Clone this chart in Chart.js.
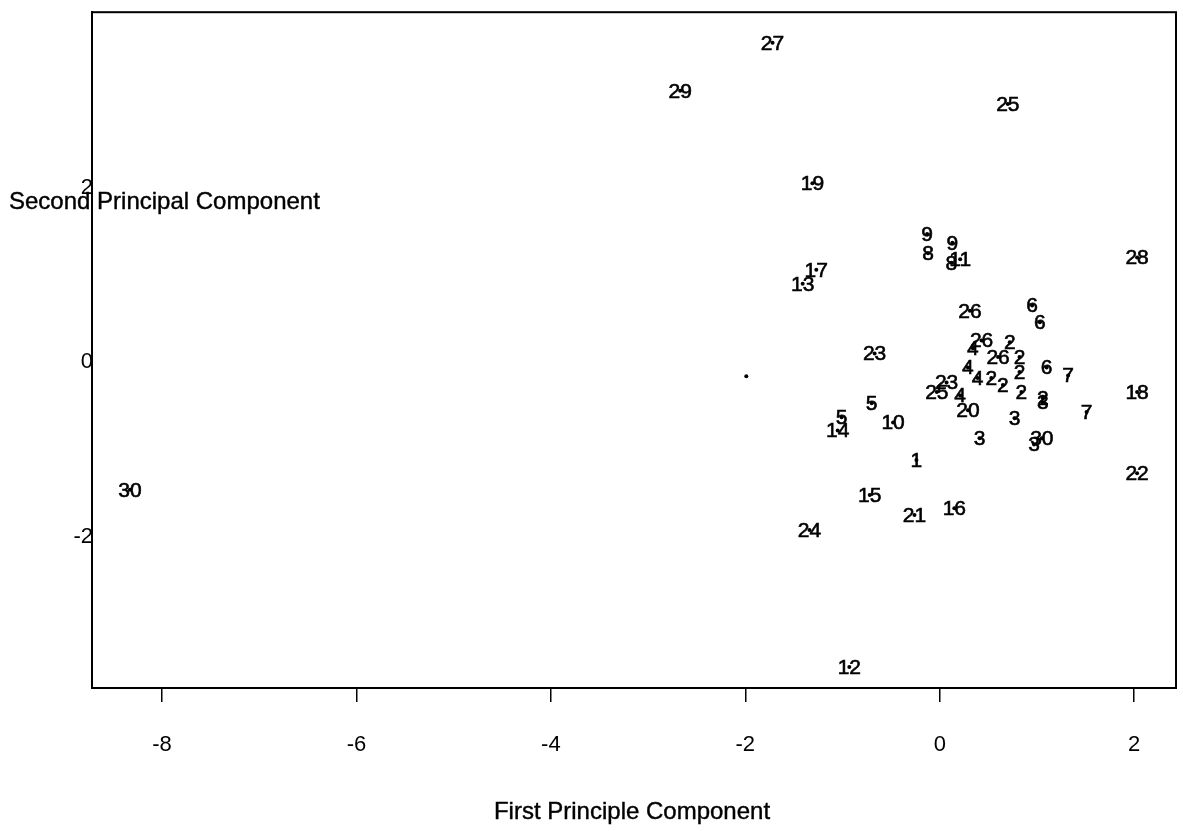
<!DOCTYPE html>
<html>
<head>
<meta charset="utf-8">
<script src="https://cdn.jsdelivr.net/npm/chart.js@4.4.0/dist/chart.umd.min.js"></script>
<style>
  html, body { margin: 0; padding: 0; background: #fff; }
  #wrap { width: 1183px; height: 831px; }
</style>
</head>
<body>
<div id="wrap"><canvas id="graph"></canvas></div>
<script>
const black = 'rgb(0, 0, 0)'
const fontFamily = '"Liberation Sans", Arial, sans-serif'

//Observation number printed at each point
const pointLabels = [
  '27', '29', '25', '19', '9', '8', '9', '8', '11', '28',
  '17', '13', '26', '6', '6', '26', '2', '4', '23', '26',
  '2', '4', '6', '2', '7', '4', '2', '23', '2', '25',
  '4', '2', '18', '2', '3', '5', '20', '7', '3', '5',
  '10', '14', '3', '30', '3', '1', '22', '30', '15', '16',
  '21', '24', '12', ''
]
//First principal component (x)
const pcOne = [
  -1.72, -2.67, 0.70, -1.31, -0.13, -0.12, 0.13, 0.12, 0.21, 2.03,
  -1.27, -1.41, 0.31, 0.95, 1.03, 0.43, 0.72, 0.34, -0.67, 0.60,
  0.82, 0.29, 1.10, 0.82, 1.32, 0.39, 0.53, 0.07, 0.65, -0.03,
  0.21, 0.84, 2.03, 1.06, 1.06, -0.70, 0.29, 1.51, 0.77, -1.01,
  -0.48, -1.05, 0.41, 1.05, 0.97, -0.24, 2.03, -8.33, -0.72, 0.15,
  -0.26, -1.34, -0.93, -1.99
]
//Second principal component (y)
const pcTwo = [
  3.66, 3.11, 2.96, 2.05, 1.47, 1.25, 1.37, 1.14, 1.18, 1.20,
  1.06, 0.90, 0.59, 0.65, 0.46, 0.25, 0.23, 0.16, 0.10, 0.06,
  0.06, -0.06, -0.06, -0.11, -0.15, -0.18, -0.18, -0.23, -0.26, -0.34,
  -0.38, -0.34, -0.34, -0.41, -0.46, -0.47, -0.55, -0.57, -0.64, -0.63,
  -0.69, -0.78, -0.87, -0.87, -0.94, -1.12, -1.27, -1.46, -1.52, -1.67,
  -1.75, -1.92, -3.49, -0.16
]
const xTicks = [-8, -6, -4, -2, 0, 2]
const yTicks = [-2, 0, 2]
const xTitle = 'First Principle Component'
const yTitle = 'Second Principal Component'

//fill + thin stroke so the text looks as heavy as the scanned print
function heavyText(ctx, txt, x, y) {
  ctx.fillText(txt, x, y)
  ctx.strokeText(txt, x, y)
}

//Draw the number centered on each point
const pointLabelPlugin = {
  id: 'pointLabels',
  afterDatasetsDraw(chart) {
    const ctx = chart.ctx
    const meta = chart.getDatasetMeta(0)
    ctx.save()
    ctx.fillStyle = black
    ctx.strokeStyle = black
    ctx.lineWidth = 0.6
    ctx.font = '21px ' + fontFamily
    ctx.textAlign = 'center'
    ctx.textBaseline = 'middle'
    meta.data.forEach((pt, i) => {
      if (pointLabels[i]) heavyText(ctx, pointLabels[i], pt.x, pt.y + 1)
    })
    ctx.restore()
  }
}

//Box round the plot + the two horizontal axis titles
const framePlugin = {
  id: 'frame',
  beforeDraw(chart) {
    const ctx = chart.ctx
    ctx.save()
    ctx.fillStyle = '#fff'
    ctx.fillRect(0, 0, chart.width, chart.height)
    ctx.restore()
  },
  afterDraw(chart) {
    const ctx = chart.ctx
    const a = chart.chartArea
    ctx.save()
    ctx.strokeStyle = black
    ctx.lineWidth = 2
    ctx.strokeRect(a.left, a.top, a.right - a.left, a.bottom - a.top)
    ctx.fillStyle = black
    ctx.lineWidth = 0.4
    ctx.font = '24px ' + fontFamily
    ctx.textBaseline = 'middle'
    ctx.textAlign = 'left'
    heavyText(ctx, yTitle, 9, 202)
    ctx.textAlign = 'center'
    heavyText(ctx, xTitle, 632, 812)
    ctx.restore()
  }
}

const myChart = new Chart(document.getElementById('graph'), {
  type: 'scatter',
  data: {
    datasets: [{
      data: pcOne.map((x, i) => ({x: x, y: pcTwo[i]})),
      pointRadius: 2,
      pointBackgroundColor: black,
      pointBorderWidth: 0,
      showLine: false,
    }]
  },
  options: {
    responsive: true,
    maintainAspectRatio: false,
    animation: false,
    layout: {padding: {top: 11, right: 7, left: 0, bottom: 0}},
    plugins: {
      legend: {display: false},
      tooltip: {enabled: false},
    },
    scales: {
      x: {
        type: 'linear',
        min: -8.72,
        max: 2.43,
        afterBuildTicks: (scale) => { scale.ticks = xTicks.map(v => ({value: v})) },
        afterFit: (scale) => { scale.height = 831 - 688 },
        ticks: {
          color: black,
          padding: 30,
          maxRotation: 0,
          font: {size: 22, family: fontFamily},
        },
        grid: {
          drawOnChartArea: false,
          drawTicks: true,
          tickLength: 14,
          color: black,
          lineWidth: 1.5,
        },
        border: {display: true, color: black, width: 2},
      },
      y: {
        type: 'linear',
        min: -3.73,
        max: 4.01,
        afterBuildTicks: (scale) => { scale.ticks = yTicks.map(v => ({value: v})) },
        afterFit: (scale) => { scale.width = 92 },
        ticks: {
          color: black,
          padding: -1,
          font: {size: 22, family: fontFamily},
        },
        grid: {drawOnChartArea: false, drawTicks: false},
        border: {display: true, color: black, width: 2},
      }
    }
  },
  plugins: [pointLabelPlugin, framePlugin]
})
</script>
</body>
</html>
